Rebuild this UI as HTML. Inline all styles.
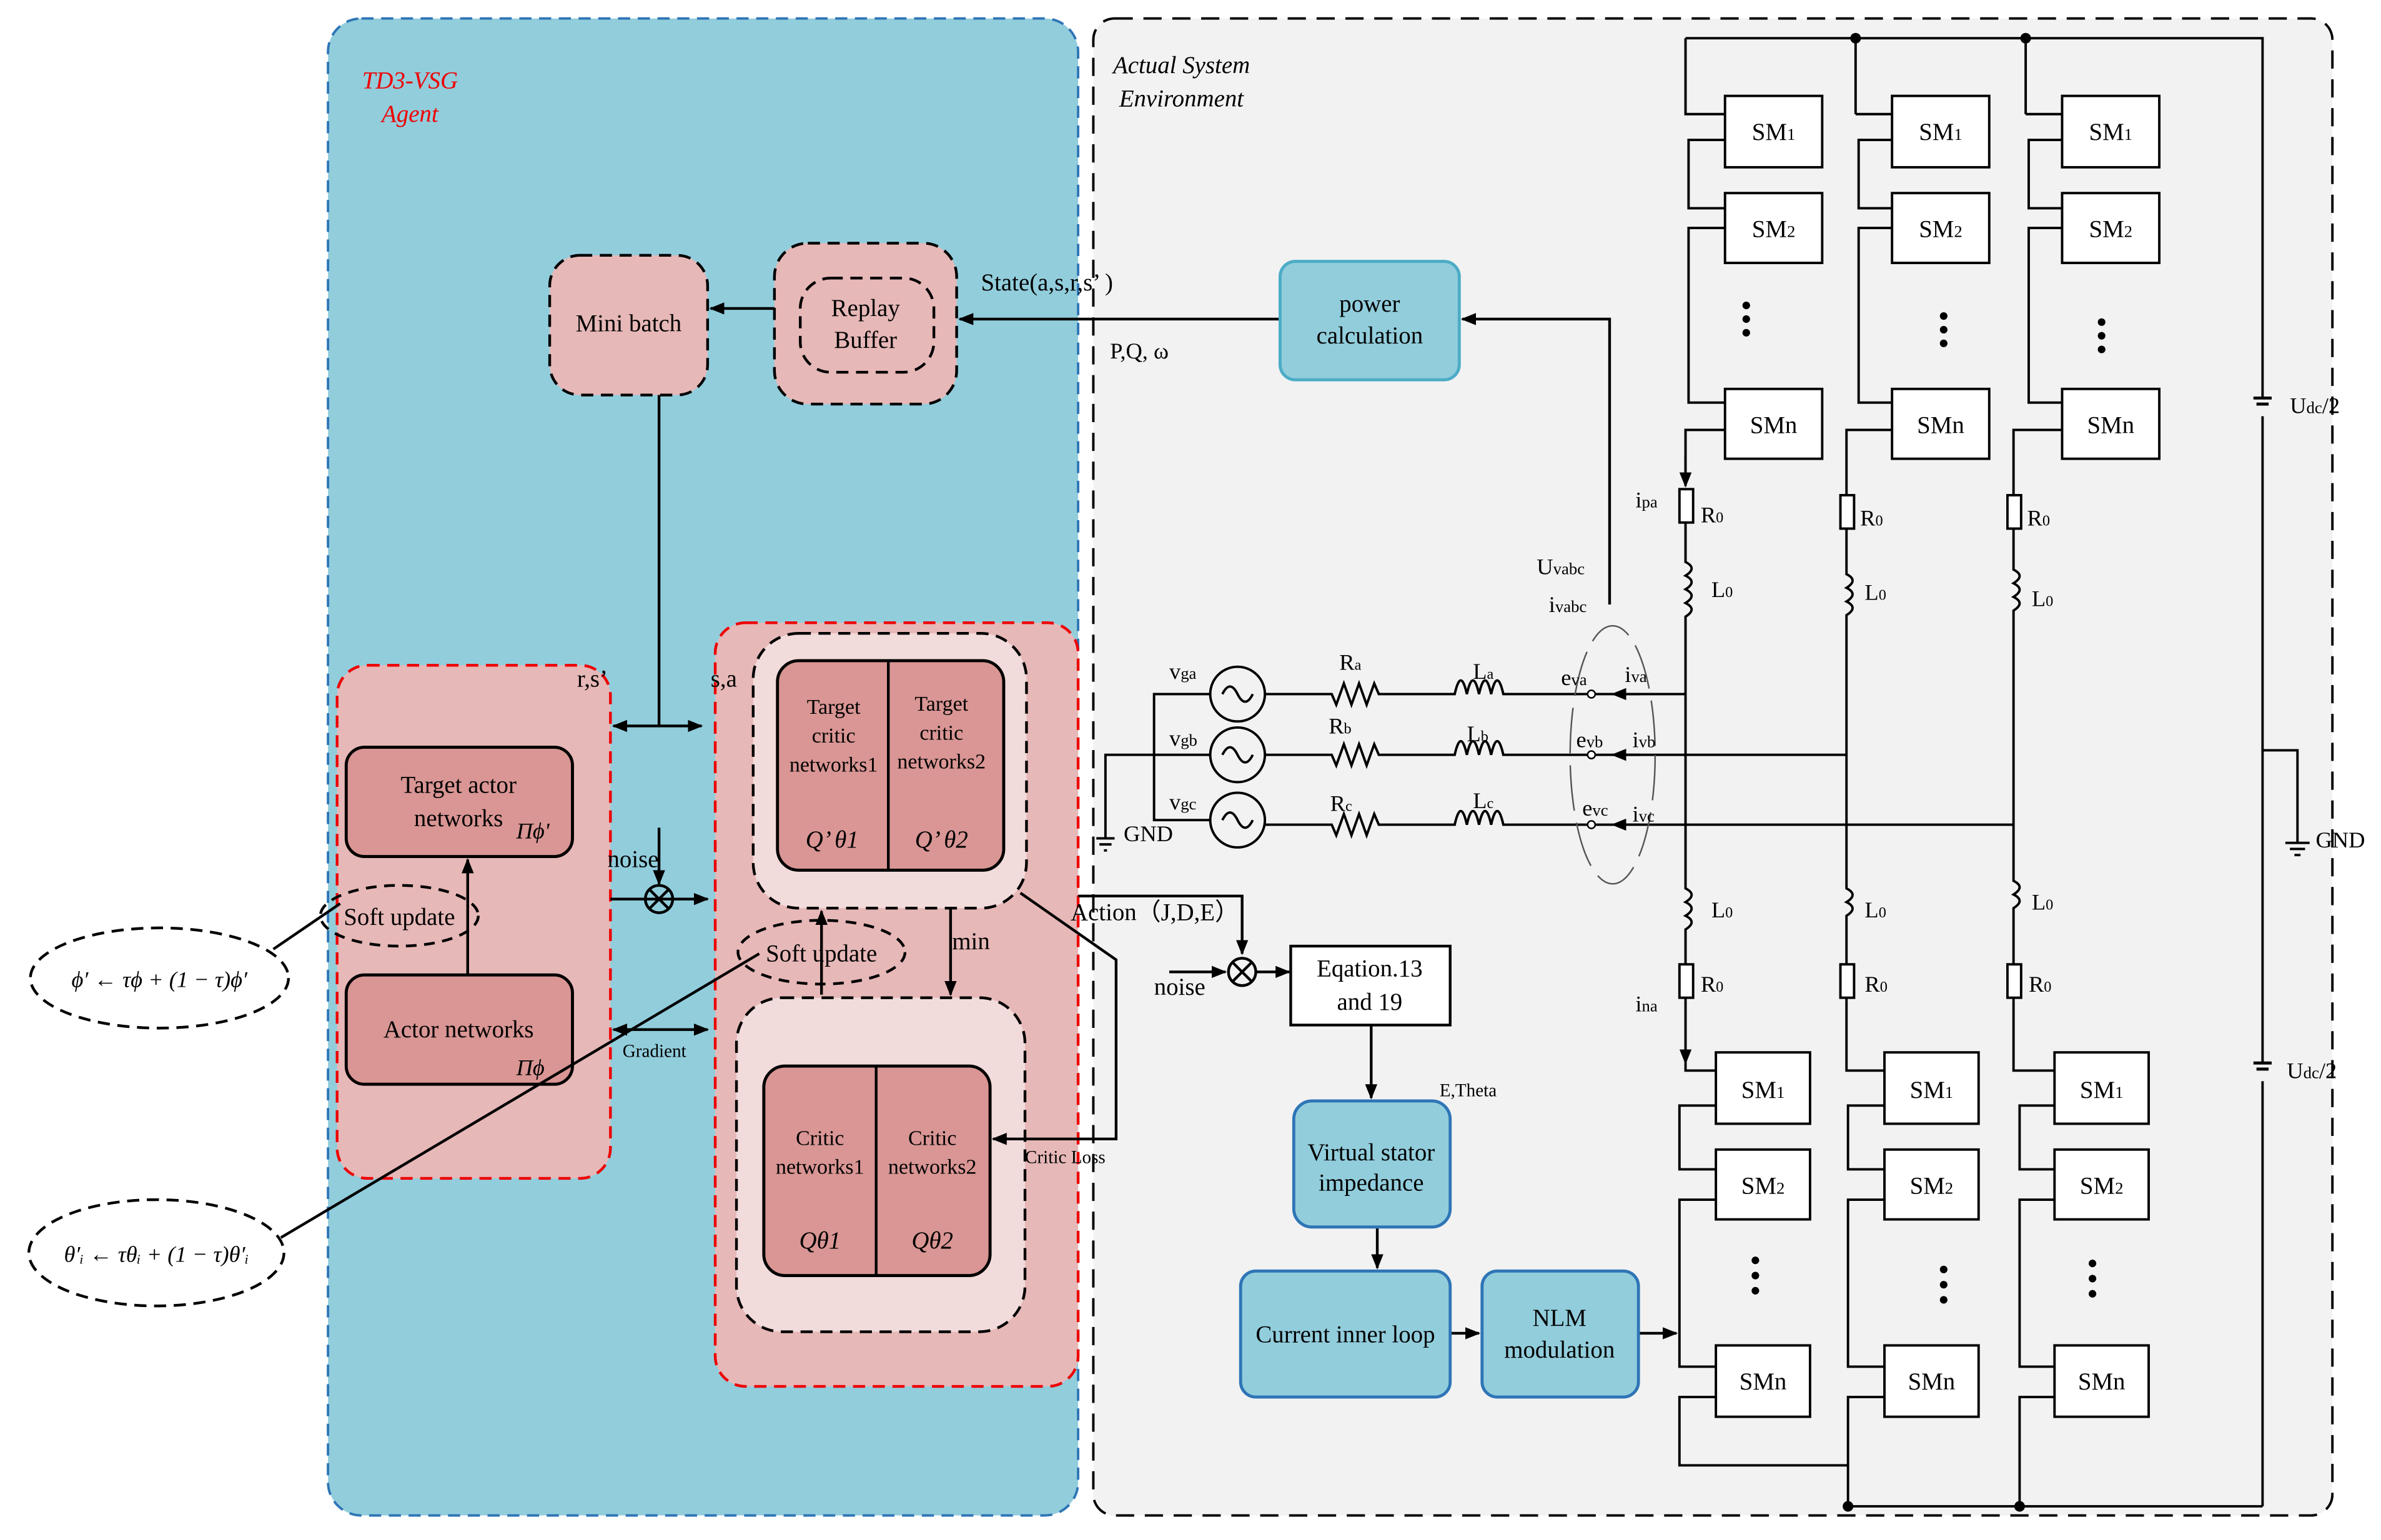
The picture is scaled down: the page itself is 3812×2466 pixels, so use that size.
<!DOCTYPE html>
<html><head><meta charset="utf-8"><style>html,body{margin:0;padding:0;background:#fff}svg{display:block}svg text{font-family:"Liberation Serif","DejaVu Serif",serif}</style></head><body>
<svg width="3812" height="2466" viewBox="0 0 1568 1014" xmlns="http://www.w3.org/2000/svg" font-family='"Liberation Serif", serif' font-size="16">
<defs>
<marker id="a" markerWidth="10" markerHeight="8" refX="9" refY="4" orient="auto" markerUnits="userSpaceOnUse"><path d="M0,0 L10,4 L0,8z" fill="#000"/></marker>
<marker id="as" markerWidth="10" markerHeight="8" refX="1" refY="4" orient="auto" markerUnits="userSpaceOnUse"><path d="M10,0 L0,4 L10,8z" fill="#000"/></marker>
</defs>
<rect x="0" y="0" width="1568" height="1014" fill="#fff"/>
<rect x="216" y="12" width="494" height="986" rx="22" fill="#92cddc" stroke="#2e75b6" stroke-width="1.6" stroke-dasharray="8,5"/>
<rect x="720" y="12" width="816" height="986" rx="14" fill="#f2f2f2" stroke="#000" stroke-width="1.6" stroke-dasharray="12,7"/>
<text x="270" y="58" fill="#e00" font-style="italic" text-anchor="middle">TD3-VSG</text>
<text x="270" y="80" fill="#e00" font-style="italic" text-anchor="middle">Agent</text>
<text x="733" y="48" font-style="italic">Actual System</text>
<text x="737" y="70" font-style="italic">Environment</text>

<g stroke="#000" stroke-width="1.8" fill="none">
<rect x="362" y="168" width="104" height="92" rx="20" fill="#e6b8b7" stroke-dasharray="8,5"/>
<rect x="510" y="160" width="120" height="106" rx="22" fill="#e6b8b7" stroke-dasharray="8,5"/>
<rect x="527" y="183" width="88" height="62" rx="20" stroke-dasharray="8,5"/>
<line x1="510" y1="203" x2="468" y2="203" marker-end="url(#a)"/>
<line x1="843" y1="210" x2="632" y2="210" marker-end="url(#a)"/>
<path d="M1060,398 V210 H963" marker-end="url(#a)"/>
<rect x="222" y="438" width="180" height="338" rx="20" fill="#e6b8b7" stroke="#e00" stroke-dasharray="8,5"/>
<rect x="228" y="492" width="149" height="72" rx="12" fill="#d99694" stroke-width="2"/>
<rect x="228" y="642" width="149" height="72" rx="12" fill="#d99694" stroke-width="2"/>
<ellipse cx="263" cy="603" rx="52" ry="20" stroke-dasharray="7,5"/>
<line x1="308" y1="642" x2="308" y2="566" marker-end="url(#a)"/>
<line x1="434" y1="260" x2="434" y2="478"/>
<line x1="404" y1="478" x2="462" y2="478" marker-start="url(#as)" marker-end="url(#a)"/>
<line x1="434" y1="545" x2="434" y2="582" marker-end="url(#a)"/>
<circle cx="434" cy="592" r="9"/>
<path d="M428,586 L440,598 M440,586 L428,598"/>
<line x1="402" y1="592" x2="466" y2="592" marker-end="url(#a)"/>
<line x1="404" y1="678" x2="466" y2="678" marker-start="url(#as)" marker-end="url(#a)"/>
<rect x="471" y="410" width="239" height="503" rx="20" fill="#e6b8b7" stroke="#e00" stroke-dasharray="8,5"/>
<rect x="496" y="417" width="180" height="181" rx="30" fill="#f2dcdb" stroke-dasharray="8,5"/>
<rect x="512" y="435" width="149" height="138" rx="14" fill="#d99694" stroke-width="2"/>
<line x1="585" y1="435" x2="585" y2="573"/>
<rect x="485" y="657" width="190" height="220" rx="30" fill="#f2dcdb" stroke-dasharray="8,5"/>
<rect x="503" y="702" width="149" height="138" rx="14" fill="#d99694" stroke-width="2"/>
<line x1="577" y1="702" x2="577" y2="840"/>
<ellipse cx="541" cy="627" rx="55" ry="21" stroke-dasharray="7,5"/>
<line x1="541" y1="655" x2="541" y2="600" marker-end="url(#a)"/>
<line x1="626" y1="598" x2="626" y2="655" marker-end="url(#a)"/>
<path d="M672,588 L735,632 V750 H654" marker-end="url(#a)"/>
<path d="M710,590 H818 V628" marker-end="url(#a)"/>
<line x1="770" y1="640" x2="807" y2="640" marker-end="url(#a)"/>
<circle cx="818" cy="640" r="9"/>
<path d="M812,634 L824,646 M824,634 L812,646"/>
<line x1="827" y1="640" x2="849" y2="640" marker-end="url(#a)"/>
<rect x="850" y="623" width="105" height="52" fill="#fff"/>
<line x1="903" y1="675" x2="903" y2="723" marker-end="url(#a)"/>
<line x1="907" y1="808" x2="907" y2="835" marker-end="url(#a)"/>
<line x1="955" y1="878" x2="974" y2="878" marker-end="url(#a)"/>
<line x1="1079" y1="878" x2="1104" y2="878" marker-end="url(#a)"/>
<ellipse cx="105" cy="644" rx="85" ry="33" stroke-dasharray="8,5"/>
<ellipse cx="103" cy="825" rx="84" ry="35" stroke-dasharray="8,5"/>
<line x1="180" y1="625" x2="224" y2="595"/>
<line x1="185" y1="815" x2="500" y2="628"/>
</g>
<g stroke-width="2">
<rect x="843" y="172" width="118" height="78" rx="10" fill="#92cddc" stroke="#4bacc6"/>
<rect x="852" y="725" width="103" height="83" rx="12" fill="#92cddc" stroke="#2e75b6"/>
<rect x="817" y="837" width="138" height="83" rx="10" fill="#92cddc" stroke="#2e75b6"/>
<rect x="976" y="837" width="103" height="83" rx="10" fill="#92cddc" stroke="#2e75b6"/>
</g>
<g text-anchor="middle" font-size="16">
<text x="414" y="218">Mini batch</text>
<text x="570" y="208">Replay</text><text x="570" y="229">Buffer</text>
<text x="902" y="205">power</text><text x="902" y="226">calculation</text>
<text x="302" y="522">Target actor</text><text x="302" y="544">networks</text>
<text x="263" y="609">Soft update</text>
<text x="302" y="683">Actor networks</text>
<text x="541" y="633">Soft update</text>
<text x="549" y="470" font-size="14">Target</text><text x="549" y="489" font-size="14">critic</text><text x="549" y="508" font-size="14">networks1</text>
<text x="620" y="468" font-size="14">Target</text><text x="620" y="487" font-size="14">critic</text><text x="620" y="506" font-size="14">networks2</text>
<text x="540" y="754" font-size="14">Critic</text><text x="540" y="773" font-size="14">networks1</text>
<text x="614" y="754" font-size="14">Critic</text><text x="614" y="773" font-size="14">networks2</text>
<text x="540" y="822" font-style="italic">Qθ1</text><text x="614" y="822" font-style="italic">Qθ2</text>
<text x="548" y="558" font-style="italic">Q’ θ1</text><text x="620" y="558" font-style="italic">Q’ θ2</text>
<text x="902" y="643">Eqation.13</text><text x="902" y="665">and 19</text>
<text x="903" y="764">Virtual stator</text><text x="903" y="784">impedance</text>
<text x="886" y="884">Current inner loop</text>
<text x="1027" y="873">NLM</text><text x="1027" y="894">modulation</text>
<text x="105" y="650" font-style="italic" font-size="15">ϕ′ ← τϕ + (1 − τ)ϕ′</text>
<text x="103" y="831" font-style="italic" font-size="15">θ′ᵢ ← τθᵢ + (1 − τ)θ′ᵢ</text>
</g>
<text x="340" y="552" font-style="italic" font-size="15">Πϕ'</text>
<text x="340" y="708" font-style="italic" font-size="15">Πϕ</text>
<text x="646" y="191">State(a,s,r,s’ )</text>
<text x="731" y="236" font-size="15">P,Q, ω</text>
<text x="380" y="452">r,s’</text>
<text x="468" y="452">s,a</text>
<text x="400" y="571">noise</text>
<text x="410" y="696" font-size="12">Gradient</text>
<text x="627" y="625">min</text>
<text x="705" y="606">Action（J,D,E）</text>
<text x="675" y="766" font-size="12">Critic Loss</text>
<text x="760" y="655">noise</text>
<text x="948" y="722" font-size="12">E,Theta</text>

<g stroke="#000" stroke-width="1.6" fill="none">
<path d="M1110,25 H1490 V262 M1490,274 V700 M1490,712 V992"/>
<path d="M1484,262 h12 M1486,266 h8 M1484,700 h12 M1486,704 h8" stroke-width="2"/>
<path d="M1490,494 H1513 V555 M1505,555 h16 M1508,559 h10 M1511,563 h4"/>
<path d="M1222,25 V75 M1334,25 V75"/>
<path d="M1110,25 V75 H1136 M1136,92 H1112 V137 H1136 M1136,150 H1112 V265 H1136 M1136,283 H1110 V320"/>
<rect x="1136" y="63" width="64" height="47" fill="#fff"/>
<rect x="1136" y="127" width="64" height="46" fill="#fff"/>
<rect x="1136" y="256" width="64" height="46" fill="#fff"/>
<path d="M1222,75 H1246 M1246,92 H1224 V137 H1246 M1246,150 H1224 V265 H1246 M1246,283 H1216 V326"/>
<rect x="1246" y="63" width="64" height="47" fill="#fff"/>
<rect x="1246" y="127" width="64" height="46" fill="#fff"/>
<rect x="1246" y="256" width="64" height="46" fill="#fff"/>
<path d="M1334,75 H1358 M1358,92 H1336 V137 H1358 M1358,150 H1336 V265 H1358 M1358,283 H1326 V326"/>
<rect x="1358" y="63" width="64" height="47" fill="#fff"/>
<rect x="1358" y="127" width="64" height="46" fill="#fff"/>
<rect x="1358" y="256" width="64" height="46" fill="#fff"/>
<line x1="1110" y1="300" x2="1110" y2="320" marker-end="url(#a)"/>
<rect x="1106" y="322" width="9" height="22" fill="#fff"/>
<rect x="1212" y="326" width="9" height="22" fill="#fff"/>
<rect x="1322" y="326" width="9" height="22" fill="#fff"/>
<path d="M1110,344 V370 q8,4 0,9 q8,4 0,9 q8,4 0,9 q8,4 0,9 V585 q8,4 0,9 q8,4 0,9 q8,4 0,9 V635"/>
<path d="M1216,348 V378 q8,4 0,9 q8,4 0,9 q8,4 0,9 V585 q8,4 0,9 q8,4 0,9 V635"/>
<path d="M1326,348 V375 q8,4 0,9 q8,4 0,9 q8,4 0,9 V580 q8,4 0,9 q8,4 0,9 V635"/>
<rect x="1106" y="635" width="9" height="22" fill="#fff"/>
<rect x="1212" y="635" width="9" height="22" fill="#fff"/>
<rect x="1322" y="635" width="9" height="22" fill="#fff"/>
<line x1="1110" y1="657" x2="1110" y2="700" marker-end="url(#a)"/>
<path d="M1110,700 V705 H1130 M1130,728 H1106 V770 H1130 M1130,790 H1106 V900 H1130 M1130,920 H1106 V965 H1217"/>
<path d="M1216,657 V705 H1241 M1241,728 H1217 V770 H1241 M1241,790 H1217 V900 H1241 M1241,920 H1217 V992"/>
<path d="M1326,657 V705 H1353 M1353,728 H1330 V770 H1353 M1353,790 H1330 V900 H1353 M1353,920 H1330 V992 M1217,992 H1490"/>
<rect x="1130" y="693" width="62" height="47" fill="#fff"/><rect x="1130" y="757" width="62" height="46" fill="#fff"/><rect x="1130" y="886" width="62" height="47" fill="#fff"/>
<rect x="1241" y="693" width="62" height="47" fill="#fff"/><rect x="1241" y="757" width="62" height="46" fill="#fff"/><rect x="1241" y="886" width="62" height="47" fill="#fff"/>
<rect x="1353" y="693" width="62" height="47" fill="#fff"/><rect x="1353" y="757" width="62" height="46" fill="#fff"/><rect x="1353" y="886" width="62" height="47" fill="#fff"/>
<path d="M1110,457 H1048 M1216,497 H1048 M1326,543 H1048"/>
<line x1="1080" y1="457" x2="1062" y2="457" marker-end="url(#a)"/>
<line x1="1080" y1="497" x2="1062" y2="497" marker-end="url(#a)"/>
<line x1="1080" y1="543" x2="1062" y2="543" marker-end="url(#a)"/>
<path d="M1048,457 H990 q-4,-18 -8,0 q-4,-18 -8,0 q-4,-18 -8,0 q-4,-18 -8,0 H908 l-3,-7 l-5,14 l-5,-14 l-5,14 l-5,-14 l-5,14 l-3,-7 H833"/>
<path d="M1048,497 H990 q-4,-18 -8,0 q-4,-18 -8,0 q-4,-18 -8,0 q-4,-18 -8,0 H908 l-3,-7 l-5,14 l-5,-14 l-5,14 l-5,-14 l-5,14 l-3,-7 H833"/>
<path d="M1048,543 H990 q-4,-18 -8,0 q-4,-18 -8,0 q-4,-18 -8,0 q-4,-18 -8,0 H908 l-3,-7 l-5,14 l-5,-14 l-5,14 l-5,-14 l-5,14 l-3,-7 H833"/>
<circle cx="815" cy="457" r="18"/><circle cx="815" cy="497" r="18"/><circle cx="815" cy="540" r="18"/>
<path d="M805,457 q5,-10 10,0 q5,10 10,0 M805,497 q5,-10 10,0 q5,10 10,0 M805,540 q5,-10 10,0 q5,10 10,0"/>
<path d="M797,457 H760 V540 H797 M797,497 H728 V552 M722,552 h12 M724,556 h8 M727,560 h2"/>
<ellipse cx="1062" cy="497" rx="28" ry="85" stroke-width="1" stroke="#555" stroke-dasharray="30,8"/>
</g>
<g fill="#fff" stroke="#000" stroke-width="1"><circle cx="1048" cy="457" r="2.5"/><circle cx="1048" cy="497" r="2.5"/><circle cx="1048" cy="543" r="2.5"/></g>
<g fill="#000">
<circle cx="1222" cy="25" r="3.5"/><circle cx="1334" cy="25" r="3.5"/><circle cx="1217" cy="992" r="3.5"/><circle cx="1330" cy="992" r="3.5"/>
<circle cx="1150" cy="201" r="2.5"/><circle cx="1150" cy="210" r="2.5"/><circle cx="1150" cy="219" r="2.5"/>
<circle cx="1280" cy="208" r="2.5"/><circle cx="1280" cy="217" r="2.5"/><circle cx="1280" cy="226" r="2.5"/>
<circle cx="1384" cy="212" r="2.5"/><circle cx="1384" cy="221" r="2.5"/><circle cx="1384" cy="230" r="2.5"/>
<circle cx="1156" cy="830" r="2.5"/><circle cx="1156" cy="840" r="2.5"/><circle cx="1156" cy="850" r="2.5"/>
<circle cx="1280" cy="836" r="2.5"/><circle cx="1280" cy="846" r="2.5"/><circle cx="1280" cy="856" r="2.5"/>
<circle cx="1378" cy="832" r="2.5"/><circle cx="1378" cy="842" r="2.5"/><circle cx="1378" cy="852" r="2.5"/>
</g>
<g font-size="16" text-anchor="middle">
<text x="1168" y="92">SM<tspan font-size="11">1</tspan></text><text x="1278" y="92">SM<tspan font-size="11">1</tspan></text><text x="1390" y="92">SM<tspan font-size="11">1</tspan></text>
<text x="1168" y="156">SM<tspan font-size="11">2</tspan></text><text x="1278" y="156">SM<tspan font-size="11">2</tspan></text><text x="1390" y="156">SM<tspan font-size="11">2</tspan></text>
<text x="1168" y="285">SMn</text><text x="1278" y="285">SMn</text><text x="1390" y="285">SMn</text>
<text x="1161" y="723">SM<tspan font-size="11">1</tspan></text><text x="1272" y="723">SM<tspan font-size="11">1</tspan></text><text x="1384" y="723">SM<tspan font-size="11">1</tspan></text>
<text x="1161" y="786">SM<tspan font-size="11">2</tspan></text><text x="1272" y="786">SM<tspan font-size="11">2</tspan></text><text x="1384" y="786">SM<tspan font-size="11">2</tspan></text>
<text x="1161" y="915">SMn</text><text x="1272" y="915">SMn</text><text x="1384" y="915">SMn</text>
</g>
<g font-size="15">
<text x="1120" y="344">R<tspan font-size="10">0</tspan></text><text x="1225" y="346">R<tspan font-size="10">0</tspan></text><text x="1335" y="346">R<tspan font-size="10">0</tspan></text>
<text x="1127" y="393">L<tspan font-size="10">0</tspan></text><text x="1228" y="395">L<tspan font-size="10">0</tspan></text><text x="1338" y="399">L<tspan font-size="10">0</tspan></text>
<text x="1127" y="604">L<tspan font-size="10">0</tspan></text><text x="1228" y="604">L<tspan font-size="10">0</tspan></text><text x="1338" y="599">L<tspan font-size="10">0</tspan></text>
<text x="1120" y="653">R<tspan font-size="10">0</tspan></text><text x="1228" y="653">R<tspan font-size="10">0</tspan></text><text x="1336" y="653">R<tspan font-size="10">0</tspan></text>
<text x="1077" y="334">i<tspan font-size="11">pa</tspan></text><text x="1077" y="666">i<tspan font-size="11">na</tspan></text>
<text x="1012" y="378">U<tspan font-size="11">vabc</tspan></text><text x="1020" y="403">i<tspan font-size="11">vabc</tspan></text>
<text x="1508" y="272">U<tspan font-size="11">dc</tspan>/2</text><text x="1506" y="710">U<tspan font-size="11">dc</tspan>/2</text>
<text x="1525" y="558">GND</text><text x="740" y="554">GND</text>
<text x="770" y="447">v<tspan font-size="11">ga</tspan></text><text x="770" y="491">v<tspan font-size="11">gb</tspan></text><text x="770" y="533">v<tspan font-size="11">gc</tspan></text>
<text x="882" y="441">R<tspan font-size="10">a</tspan></text><text x="875" y="483">R<tspan font-size="10">b</tspan></text><text x="876" y="534">R<tspan font-size="10">c</tspan></text>
<text x="970" y="447">L<tspan font-size="10">a</tspan></text><text x="966" y="488">L<tspan font-size="10">b</tspan></text><text x="970" y="532">L<tspan font-size="10">c</tspan></text>
<text x="1028" y="451">e<tspan font-size="11">va</tspan></text><text x="1038" y="492">e<tspan font-size="11">vb</tspan></text><text x="1042" y="537">e<tspan font-size="11">vc</tspan></text>
<text x="1070" y="449">i<tspan font-size="11">va</tspan></text><text x="1075" y="492">i<tspan font-size="11">vb</tspan></text><text x="1075" y="541">i<tspan font-size="11">vc</tspan></text>
</g>
</svg>
</body></html>
